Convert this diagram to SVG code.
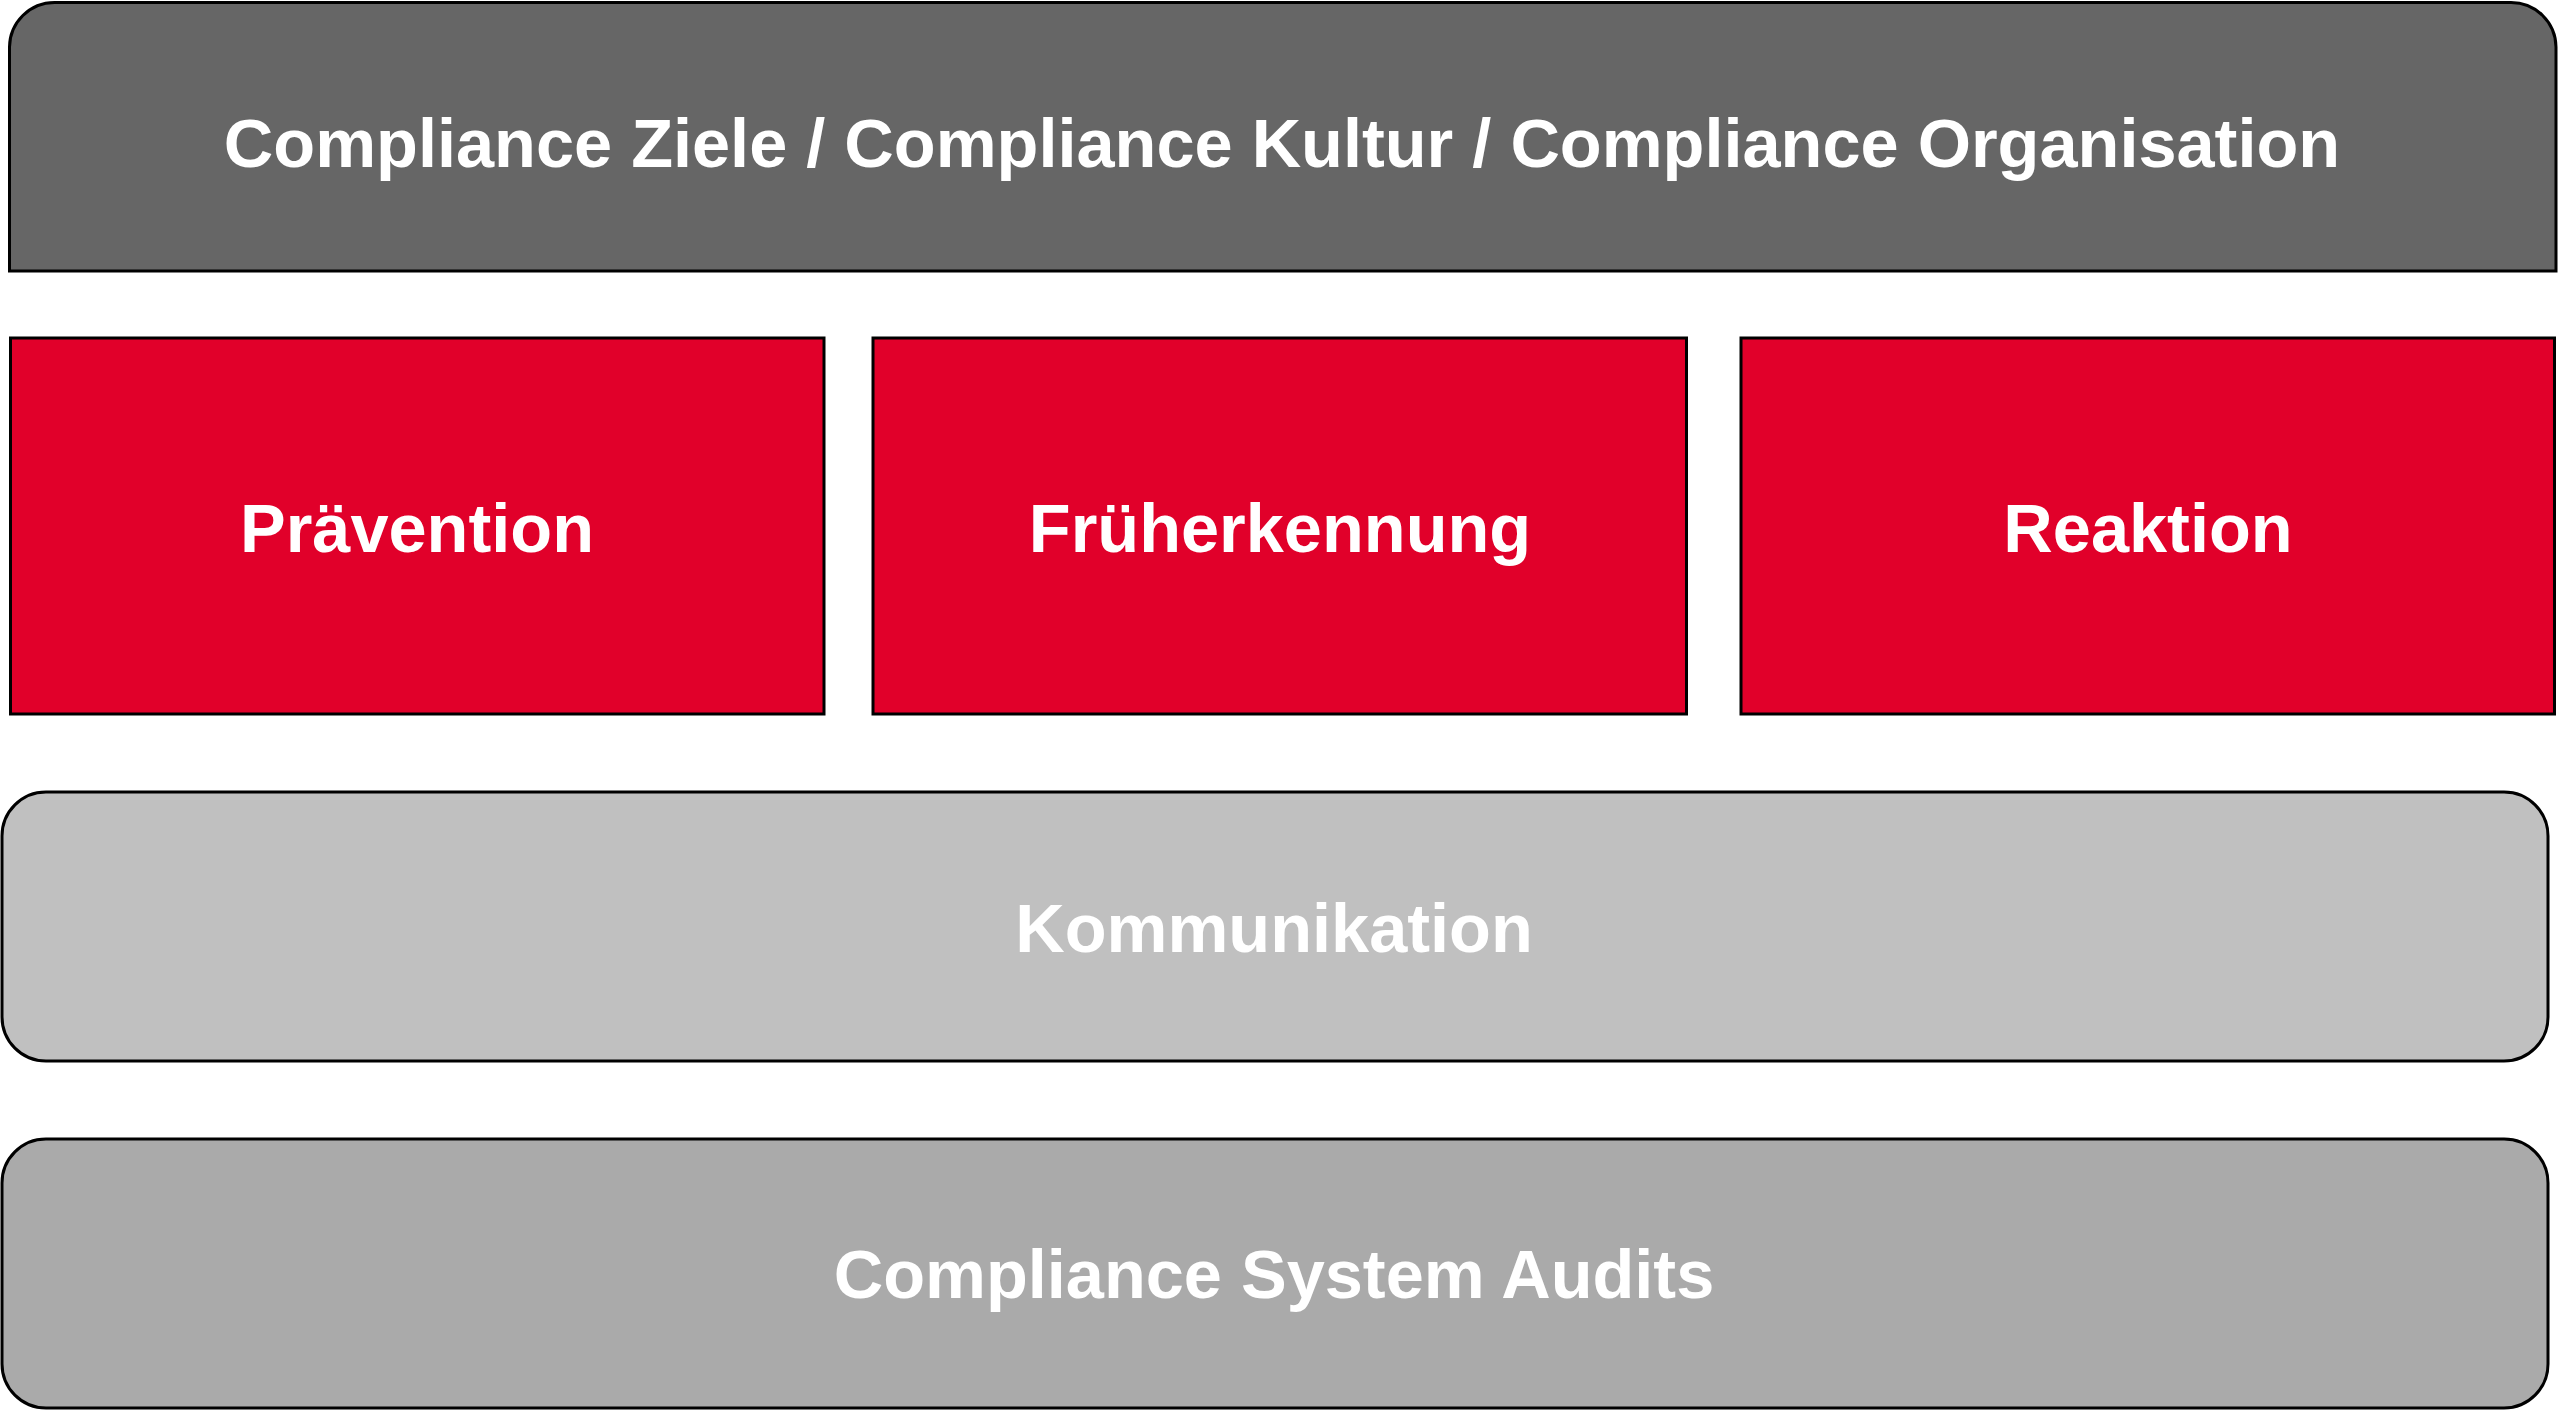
<svg xmlns="http://www.w3.org/2000/svg" width="2558" height="1411" viewBox="0 0 2558 1411">
<style>
.box{stroke:#000;stroke-width:3}
.lbl{font-family:"Liberation Sans",Arial,sans-serif;font-weight:bold;font-size:68.5px;fill:#fff;text-anchor:middle}
</style>
<rect width="2558" height="1411" fill="#fff"/>
<g id="ziele">
<path class="box" fill="#666666" d="M9.5,271 L9.5,47 A45,45 0 0 1 54.5,2.5 L2511,2.5 A45,45 0 0 1 2556,47 L2556,271 Z"/>
<text class="lbl" x="1282" y="167">Compliance Ziele / Compliance Kultur / Compliance Organisation</text>
</g>
<g id="praevention">
<rect class="box" fill="#E1002A" x="10.5" y="338" width="813.5" height="376"/>
<text class="lbl" x="417" y="552">Prävention</text>
</g>
<g id="frueherkennung">
<rect class="box" fill="#E1002A" x="873" y="338" width="813.5" height="376"/>
<text class="lbl" x="1280" y="552">Früherkennung</text>
</g>
<g id="reaktion">
<rect class="box" fill="#E1002A" x="1741" y="338" width="813.5" height="376"/>
<text class="lbl" x="2148" y="552">Reaktion</text>
</g>
<g id="kommunikation">
<rect class="box" fill="#C0C0C0" x="2" y="792" width="2546" height="269" rx="44" ry="44"/>
<text class="lbl" x="1274" y="952">Kommunikation</text>
</g>
<g id="audits">
<rect class="box" fill="#AAAAAA" x="2" y="1139" width="2546" height="269" rx="44" ry="44"/>
<text class="lbl" x="1274" y="1298">Compliance System Audits</text>
</g>
<g id="connectors"></g>
</svg>
